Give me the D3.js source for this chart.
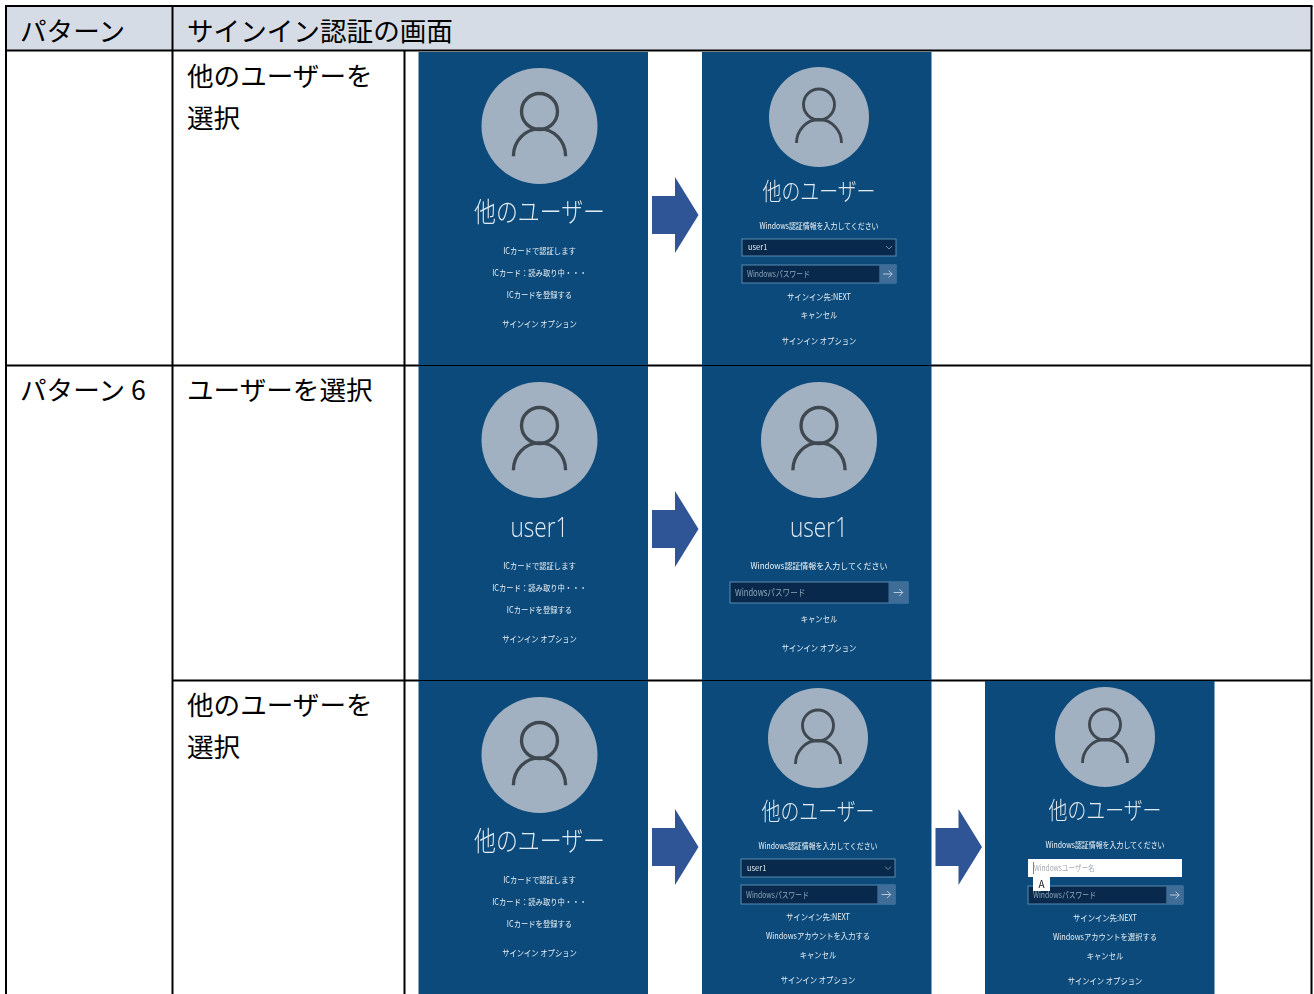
<!DOCTYPE html>
<html>
<head>
<meta charset="utf-8">
<script src="https://cdn.jsdelivr.net/npm/d3@7"></script>
<style>
  html, body { margin: 0; padding: 0; background: #fff; }
  text { font-family: "Noto Sans CJK JP", "Noto Sans", sans-serif; }
</style>
</head>
<body>
<svg id="table" width="1314" height="994" style="display:block"></svg>
<script>
// table text
var headerLabels = ["パターン", "サインイン認証の画面"];
var patternLabels = ["", "パターン 6", ""];
var selectLabels = [["他のユーザーを", "選択"], ["ユーザーを選択"], ["他のユーザーを", "選択"]];

// login screens, row by row
var screenRows  = [0, 0, 1, 1, 2, 2, 2];
var screenSlots = [0, 1, 0, 1, 0, 1, 2];
var screenNames = ["他のユーザー", "他のユーザー", "user1", "user1", "他のユーザー", "他のユーザー", "他のユーザー"];
var screenKinds = ["card", "select", "cardUser", "password", "card", "select2", "typed"];
var cardLines = ["ICカードで認証します", "ICカード：読み取り中・・・", "ICカードを登録する", "サインイン オプション"];
var screenLines = [
  cardLines,
  ["サインイン先:NEXT", "キャンセル", "サインイン オプション"],
  cardLines,
  ["キャンセル", "サインイン オプション"],
  cardLines,
  ["サインイン先:NEXT", "Windowsアカウントを入力する", "キャンセル", "サインイン オプション"],
  ["サインイン先:NEXT", "Windowsアカウントを選択する", "キャンセル", "サインイン オプション"]
];
var credentialHeading = "Windows認証情報を入力してください";
var passwordHint = "Windowsパスワード";
var usernameHint = "Windowsユーザー名";
var selectedUser = "user1";
var imeLabel = "A";

// arrows sit between two slots
var arrowRows  = [0, 1, 2, 2];
var arrowSlots = [0, 0, 0, 1];

// layout of one screen, relative to its top left corner
var layouts = {
  card:     {cx: 121, cy: 74, r: 58, nameY: 158, nameW: 131, lineY: [198, 220, 242, 271]},
  cardUser: {cx: 121, cy: 74, r: 58, nameY: 160, nameW: 58,  lineY: [199, 221, 243, 272]},
  select:   {cx: 117, cy: 65, r: 50, nameY: 137, nameW: 113, headY: 173, headW: 119, lineY: [244, 262, 288],
             dropdown: [40, 187, 154, 17], pass: [40, 213, 154, 18]},
  password: {cx: 117, cy: 74, r: 58, nameY: 160, nameW: 58,  headY: 199, headW: 137, lineY: [252, 281],
             pass: [28, 216, 178, 21]},
  select2:  {cx: 116, cy: 57, r: 50, nameY: 128, nameW: 113, headY: 164, headW: 119, lineY: [235, 254, 273, 298],
             dropdown: [39, 178, 154, 18], pass: [39, 204, 154, 19]},
  typed:    {cx: 120, cy: 56, r: 50, nameY: 127, nameW: 113, headY: 163, headW: 119, lineY: [236, 255, 274, 299],
             field: [43, 178, 154, 18], pass: [43, 205, 155, 18]}
};

var svg = d3.select("#table");

var rowTop   = d3.scaleOrdinal([0, 1, 2], [52, 366, 681]);
var rowBot   = d3.scaleOrdinal([0, 1, 2], [365, 680, 994]);
var slotLeft = d3.scaleOrdinal([0, 1, 2], [418.5, 702, 985]);
var SCREEN_W = 229.5;

var colX = [6, 172.5, 404.5, 1311.5];
var rowY = [6, 50.5, 365.5, 680.5, 994];

// squeeze text the way the narrow original font does
function squeeze(sel, width) {
  sel.attr("textLength", width).attr("lengthAdjust", "spacingAndGlyphs");
  return sel;
}
function squeezeBy(sel, factor) {
  sel.each(function() {
    var n = this.getComputedTextLength();
    d3.select(this).attr("textLength", n * factor).attr("lengthAdjust", "spacingAndGlyphs");
  });
  return sel;
}

// header band
svg.append("rect").attr("x", colX[0]).attr("y", rowY[0])
  .attr("width", colX[3] - colX[0]).attr("height", rowY[1] - rowY[0]).attr("fill", "#d6dce5");

// grid lines go under the screens so that they only peek through at the joints
var grid = svg.append("g").attr("stroke", "#000").attr("stroke-width", 2);
function hline(x1, x2, y) { grid.append("line").attr("x1", x1).attr("x2", x2).attr("y1", y).attr("y2", y); }
function vline(x, y1, y2) { grid.append("line").attr("x1", x).attr("x2", x).attr("y1", y1).attr("y2", y2); }
hline(colX[0] - 1, colX[3] + 1, rowY[0]);
hline(colX[0], colX[3], rowY[1]);
hline(colX[0], colX[3], rowY[2]);
hline(colX[1], colX[3], rowY[3]);
vline(colX[0], rowY[0], rowY[4]);
vline(colX[1], rowY[0], rowY[4]);
vline(colX[2], rowY[1], rowY[4]);
vline(colX[3], rowY[0], rowY[4]);

// cell text
var cellFont = 26.6;
svg.selectAll("text.head").data(headerLabels).enter().append("text")
  .attr("class", "head")
  .attr("x", function(d, i) { return i == 0 ? 20 : 187; })
  .attr("y", 29).attr("dominant-baseline", "central")
  .attr("font-size", cellFont).attr("fill", "#000").text(function(d) { return d; });

svg.selectAll("text.pattern").data(patternLabels).enter().append("text")
  .attr("class", "pattern")
  .attr("x", 20).attr("y", function(d, i) { return rowTop(i) + 22; })
  .attr("dominant-baseline", "central")
  .attr("font-size", cellFont).attr("fill", "#000").text(function(d) { return d; });

selectLabels.forEach(function(lines, r) {
  svg.selectAll(null).data(lines).enter().append("text")
    .attr("x", 187).attr("y", function(d, i) { return rowTop(r) + 22 + i * 42.5; })
    .attr("dominant-baseline", "central")
    .attr("font-size", cellFont).attr("fill", "#000").text(function(d) { return d; });
});

// slight softening, the original screens are scaled screenshots
var blur = svg.append("defs").append("filter").attr("id", "soft")
  .attr("color-interpolation-filters", "sRGB");
blur.append("feGaussianBlur").attr("stdDeviation", 0.35);

var screens = svg.selectAll("g.screen").data(d3.range(screenNames.length)).enter().append("g")
  .attr("class", "screen")
  .attr("filter", "url(#soft)")
  .attr("transform", function(i) { return "translate(" + slotLeft(screenSlots[i]) + "," + rowTop(screenRows[i]) + ")"; });

screens.each(function(i) {
  var g = d3.select(this);
  var lay = layouts[screenKinds[i]];
  var cx = lay.cx;
  var h = rowBot(screenRows[i]) - rowTop(screenRows[i]);
  var r = lay.r;

  g.append("rect").attr("width", SCREEN_W).attr("height", h).attr("fill", "#0b4a7a");

  // avatar
  g.append("circle").attr("cx", cx).attr("cy", lay.cy).attr("r", r).attr("fill", "#a2b1c1");
  var icon = g.append("g").attr("fill", "none").attr("stroke", "#3f4850").attr("stroke-width", 0.058 * r);
  icon.append("circle").attr("cx", cx).attr("cy", lay.cy - 0.25 * r).attr("r", 0.31 * r);
  icon.append("path").attr("d", "M" + (cx - 0.45 * r) + "," + (lay.cy + 0.52 * r) +
    " A" + (0.45 * r) + "," + (0.47 * r) + " 0 0 1 " + (cx + 0.45 * r) + "," + (lay.cy + 0.52 * r));

  // user name
  var isUser = screenNames[i] == selectedUser;
  var name = g.append("text").attr("x", cx).attr("y", lay.nameY)
    .attr("text-anchor", "middle").attr("dominant-baseline", "central")
    .attr("font-size", isUser ? 27 : (r == 58 ? 27 : 24))
    .attr("font-weight", 300)
    .attr("fill", "#e2ebf3")
    .text(screenNames[i]);
  if (isUser) name.style("font-family", '"Open Sans", sans-serif');
  squeeze(name, lay.nameW);

  // heading above the inputs
  if (lay.headY) {
    squeeze(g.append("text").attr("x", cx).attr("y", lay.headY)
      .attr("text-anchor", "middle").attr("dominant-baseline", "central")
      .attr("font-size", 8.5).attr("fill", "#f0f5f9")
      .text(credentialHeading), lay.headW);
  }

  // account dropdown
  if (lay.dropdown) {
    var dd = lay.dropdown;
    g.append("rect").attr("x", dd[0]).attr("y", dd[1]).attr("width", dd[2]).attr("height", dd[3])
      .attr("fill", "#08294b").attr("stroke", "#5b8bb0").attr("stroke-width", 1);
    g.append("text").attr("x", dd[0] + 6).attr("y", dd[1] + dd[3] / 2 - 1)
      .attr("dominant-baseline", "central").attr("font-size", 7.5).attr("fill", "#e4ecf3").text(selectedUser);
    g.append("path").attr("fill", "none").attr("stroke", "#8fa8be").attr("stroke-width", 0.8)
      .attr("d", "M" + (dd[0] + dd[2] - 10) + "," + (dd[1] + dd[3] / 2 - 1.5) + " l3,3 l3,-3");
  }

  // user name box that has focus
  if (lay.field) {
    var fd = lay.field;
    g.append("rect").attr("x", fd[0]).attr("y", fd[1]).attr("width", fd[2]).attr("height", fd[3]).attr("fill", "#fff");
    g.append("line").attr("x1", fd[0] + 5.5).attr("x2", fd[0] + 5.5).attr("y1", fd[1] + 3).attr("y2", fd[1] + fd[3] - 3)
      .attr("stroke", "#666").attr("stroke-width", 0.8);
    squeezeBy(g.append("text").attr("x", fd[0] + 6).attr("y", fd[1] + fd[3] / 2 - 1)
      .attr("dominant-baseline", "central").attr("font-size", 8).attr("fill", "#a3a9af").text(usernameHint), 0.82);
  }

  // password box with the arrow button
  if (lay.pass) {
    var ps = lay.pass, bw = ps[3] * 0.93;
    g.append("rect").attr("x", ps[0]).attr("y", ps[1]).attr("width", ps[2]).attr("height", ps[3])
      .attr("fill", "#08294b").attr("stroke", "#5b8bb0").attr("stroke-width", 1);
    g.append("rect").attr("x", ps[0] + ps[2] - bw).attr("y", ps[1]).attr("width", bw).attr("height", ps[3])
      .attr("fill", "#3f6d98");
    var ax = ps[0] + ps[2] - bw / 2, ay = ps[1] + ps[3] / 2;
    g.append("path").attr("fill", "none").attr("stroke", "#c5d4e2").attr("stroke-width", 0.9)
      .attr("d", "M" + (ax - 4.5) + "," + ay + " h9 m-3.5,-3.5 l3.5,3.5 l-3.5,3.5");
    squeezeBy(g.append("text").attr("x", ps[0] + 5).attr("y", ay - 1)
      .attr("dominant-baseline", "central").attr("font-size", ps[3] > 20 ? 9.5 : 8.5).attr("fill", "#8ea6ba").text(passwordHint), 0.8);
  }

  // IME mode marker, sits over the password box
  if (lay.field) {
    g.append("rect").attr("x", lay.field[0] + 5).attr("y", lay.field[1] + lay.field[3]).attr("width", 17).attr("height", 14).attr("fill", "#fff");
    g.append("text").attr("x", lay.field[0] + 13.5).attr("y", lay.field[1] + lay.field[3] + 6)
      .attr("text-anchor", "middle").attr("dominant-baseline", "central")
      .attr("font-size", 10).attr("fill", "#222").text(imeLabel);
  }

  // link lines at the bottom
  var links = g.selectAll("text.link").data(screenLines[i]).enter().append("text")
    .attr("class", "link")
    .attr("x", cx).attr("y", function(d, k) { return lay.lineY[k]; })
    .attr("text-anchor", "middle").attr("dominant-baseline", "central")
    .attr("font-size", 8.5).attr("fill", "#e8eff5")
    .text(function(d) { return d; });
  squeezeBy(links, 0.86);
});

// blue arrows between the screens
var ARROW_H = 76;
svg.selectAll("path.arrow").data(d3.range(arrowRows.length)).enter().append("path")
  .attr("class", "arrow")
  .attr("fill", "#2f5597")
  .attr("d", function(i) {
    var x0 = slotLeft(arrowSlots[i]) + SCREEN_W + 4;
    var tip = rowTop(arrowRows[i]) + (arrowRows[i] == 2 ? 166 : 163);
    var top = tip - ARROW_H / 2, bot = tip + ARROW_H / 2;
    return "M" + x0 + "," + (tip - 19) + " H" + (x0 + 23) + " V" + top +
      " L" + (x0 + 46.5) + "," + tip + " L" + (x0 + 23) + "," + bot + " V" + (tip + 19) + " H" + x0 + " Z";
  });
</script>
</body>
</html>
